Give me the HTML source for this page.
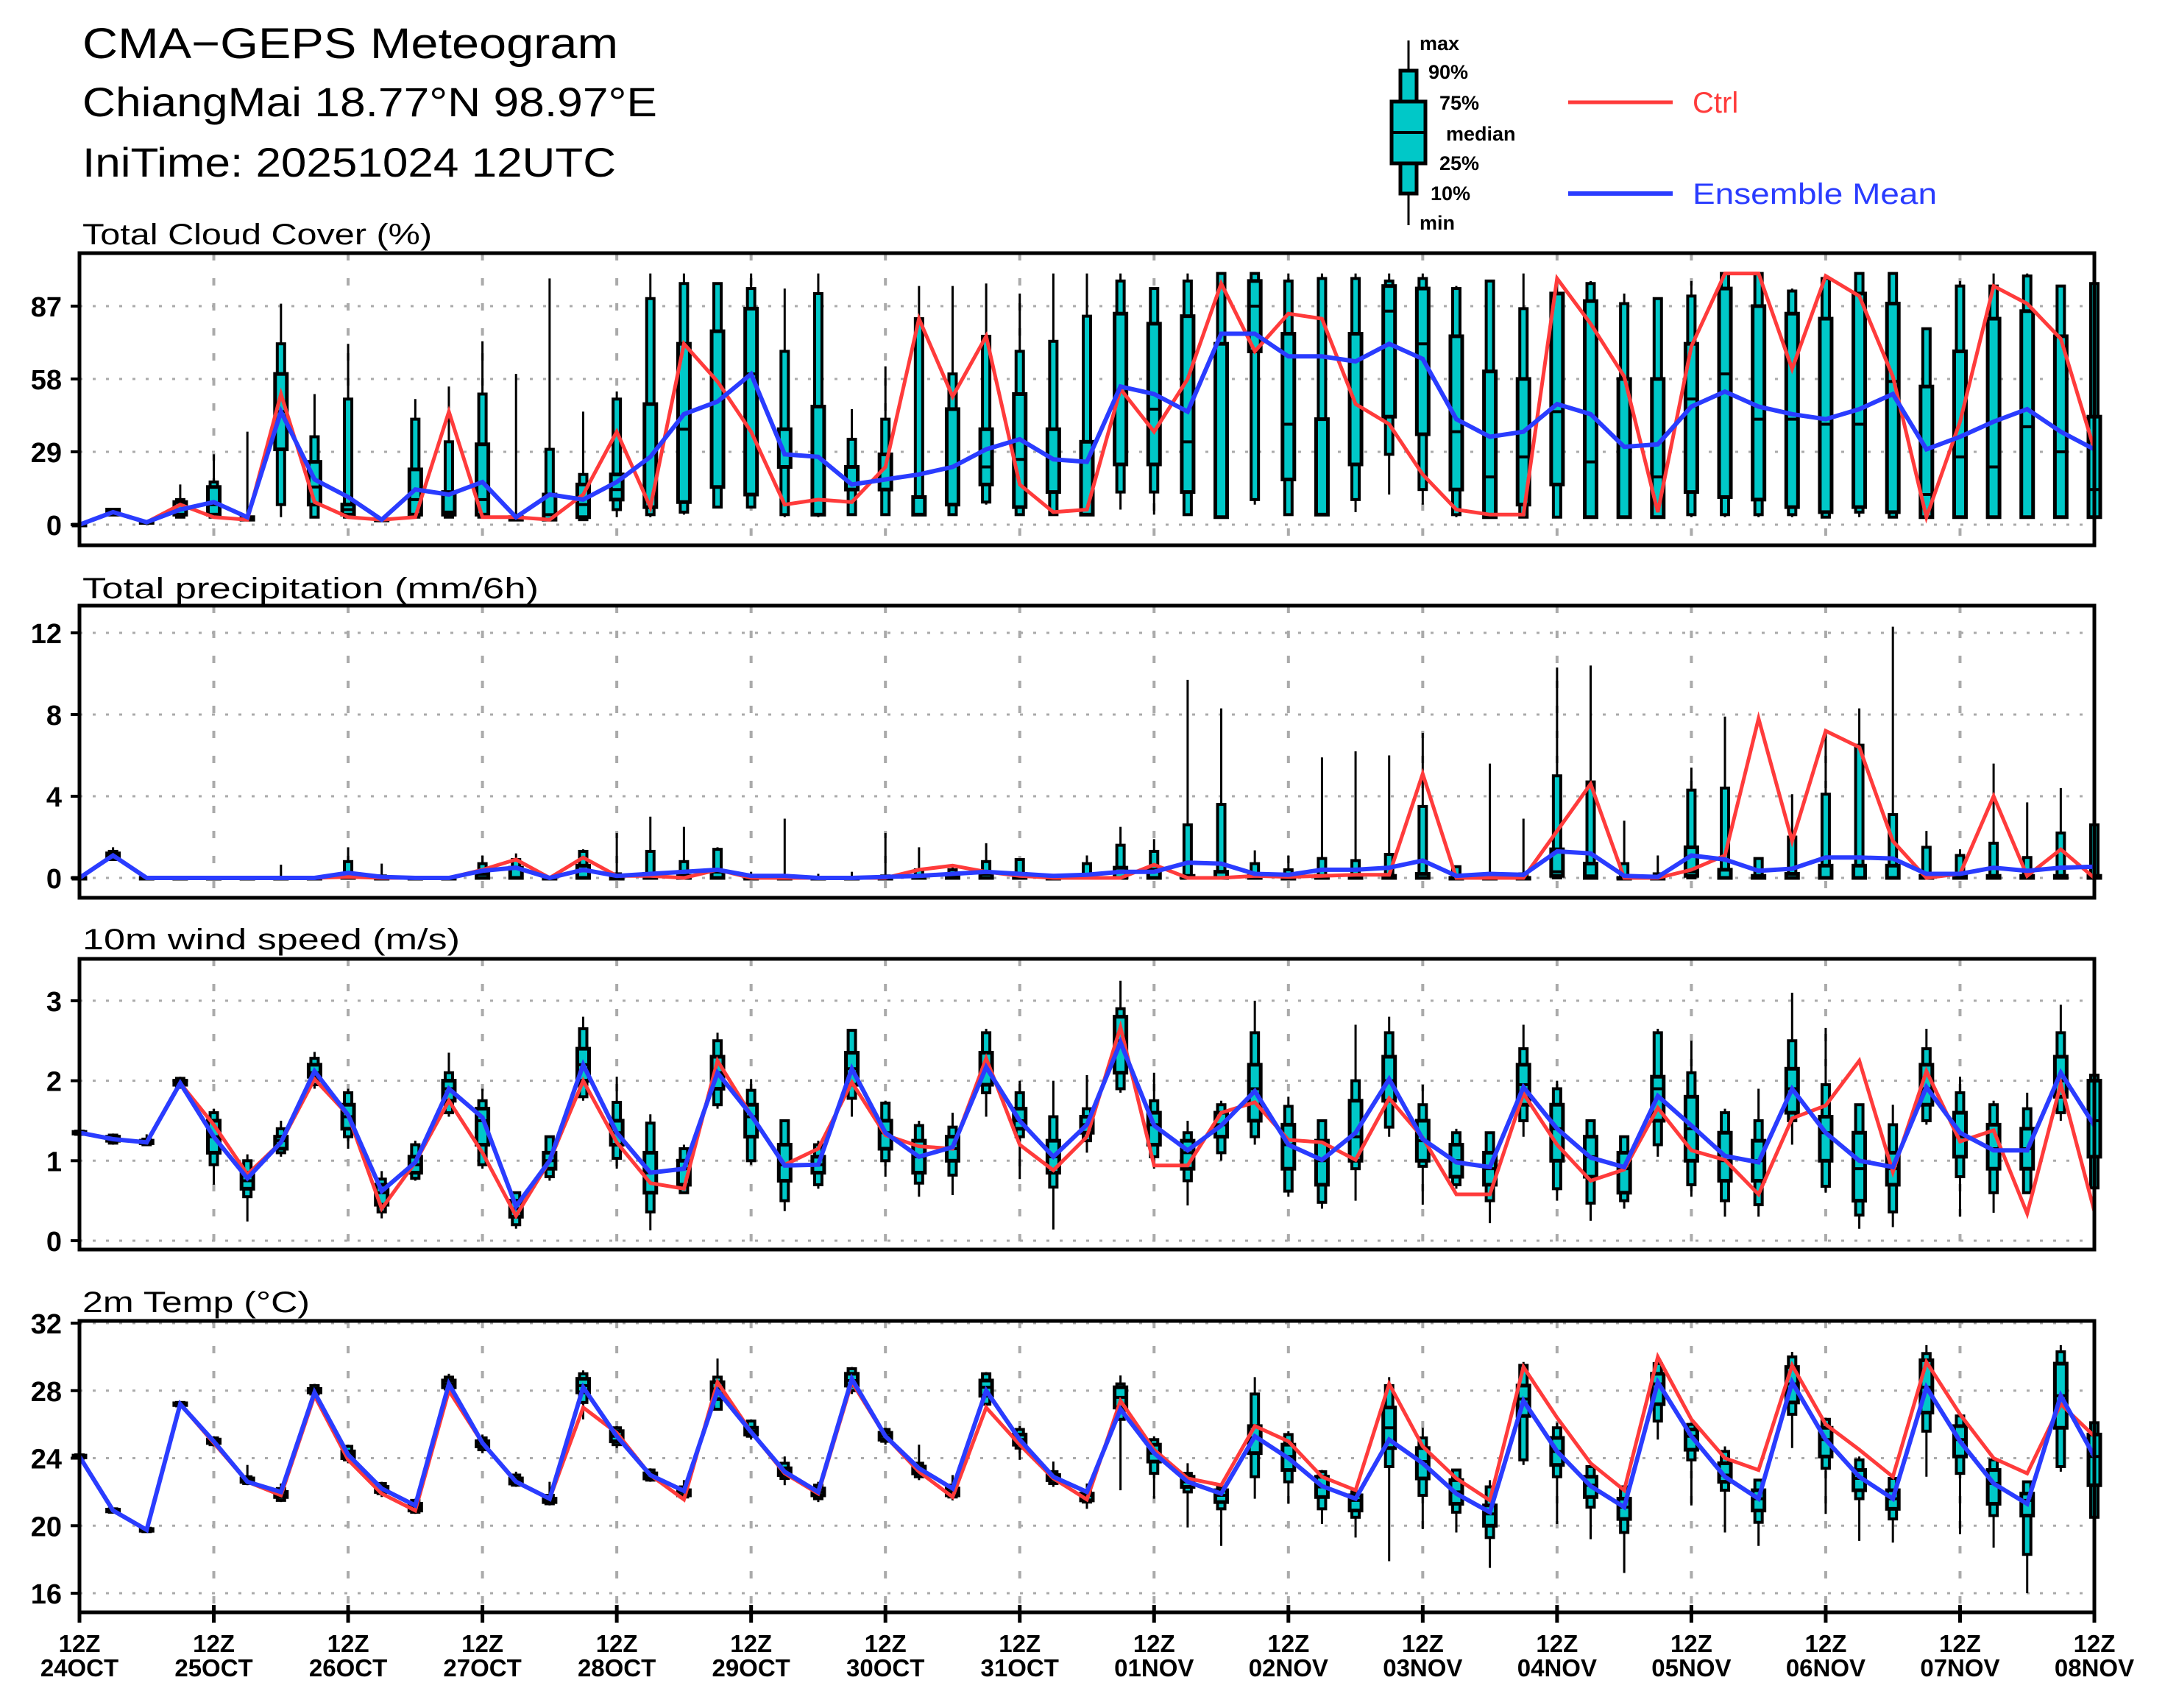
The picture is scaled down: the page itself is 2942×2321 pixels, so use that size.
<!DOCTYPE html>
<html><head><meta charset="utf-8"><title>CMA-GEPS Meteogram</title>
<style>
html,body{margin:0;padding:0;background:#fff;}
svg{display:block;}
text{font-family:"Liberation Sans",sans-serif;fill:#000;}
</style></head>
<body>
<svg id="chart" xmlns="http://www.w3.org/2000/svg" width="2942" height="2321" viewBox="0 0 2942 2321">
<rect x="0" y="0" width="2942" height="2321" fill="#fff"/>
<text x="112" y="79" font-size="58" textLength="728" lengthAdjust="spacingAndGlyphs">CMA−GEPS Meteogram</text>
<text x="112" y="158" font-size="56" textLength="781" lengthAdjust="spacingAndGlyphs">ChiangMai 18.77°N 98.97°E</text>
<text x="112" y="240" font-size="56" textLength="725" lengthAdjust="spacingAndGlyphs">IniTime: 20251024 12UTC</text>
<g id="legend">
  <line x1="1914" y1="55" x2="1914" y2="306" stroke="#000" stroke-width="3"/>
  <rect x="1903" y="96" width="22" height="167" fill="#00c8c8" stroke="#000" stroke-width="5"/>
  <rect x="1891" y="138" width="46" height="84" fill="#00c8c8" stroke="#000" stroke-width="5"/>
  <line x1="1891" y1="180" x2="1937" y2="180" stroke="#000" stroke-width="4"/>
  <text x="1929" y="68" font-size="27" font-weight="bold">max</text>
  <text x="1941" y="107" font-size="27" font-weight="bold">90%</text>
  <text x="1956" y="149" font-size="27" font-weight="bold">75%</text>
  <text x="1965" y="191" font-size="27" font-weight="bold">median</text>
  <text x="1956" y="231" font-size="27" font-weight="bold">25%</text>
  <text x="1944" y="272" font-size="27" font-weight="bold">10%</text>
  <text x="1929" y="312" font-size="27" font-weight="bold">min</text>
  <line x1="2131" y1="139" x2="2273" y2="139" stroke="#ff3b3b" stroke-width="5"/>
  <text x="2300" y="153" font-size="40" style="fill:#ff3b3b">Ctrl</text>
  <line x1="2131" y1="263" x2="2273" y2="263" stroke="#2a3cff" stroke-width="6"/>
  <text x="2300" y="277" font-size="40" textLength="332" lengthAdjust="spacingAndGlyphs" style="fill:#2a3cff">Ensemble Mean</text>
</g>
</svg>
<script>
// ---------- Cloud cover (%) ----------
const cloudMin  = [0,4,1,3,3,2,3,3,3,2, 3,3,3,2,2,2,3,3,4,7, 7,3,3,4,4,4,4,8,4,4, 4,6,4,4,3,8,4,4,5,12, 8,3,3,3,3,3,3,3,3,3, 3,3,3,3,3,3,3,3,3,3, 3];
const cloudP10  = [0,4,1,3,3,2,8,3,3,2, 3,3,3,2,2,2,6,4,5,7, 7,4,4,4,4,4,4,9,4,4, 4,13,13,4,3,10,4,4,10,28, 14,4,3,3,3,3,3,3,4,4, 4,4,3,5,3,3,3,3,3,3, 3];
const cloudP25  = [0,4,1,4,4,2,30,8,4,2, 4,4,4,2,2,3,10,7,9,15, 12,23,4,14,14,4,8,16,7,13, 4,24,24,13,3,69,18,4,24,43, 36,14,3,8,16,3,3,3,13,11, 10,7,5,7,5,3,3,3,3,3, 3];
const cloudMed  = [0,5,1,6,8,2,45,15,6,2, 10,5,10,3,4,8,14,48,38,77, 60,23,47,14,14,11,46,23,26,13, 33,84,46,33,72,87,40,42,76,85, 72,37,19,27,45,25,3,19,50,60, 42,42,40,40,57,12,27,23,39,29, 14];
const cloudP75  = [0,6,1,9,15,3,60,25,8,2, 22,13,32,3,12,16,20,48,72,77, 86,38,47,23,28,11,46,38,52,38, 33,84,80,83,72,97,76,42,76,95, 94,75,61,58,92,89,58,58,72,94, 87,84,82,92,88,55,69,82,85,75, 43];
const cloudP90  = [0,6,1,10,17,3,72,35,50,2, 42,33,52,3,30,20,50,90,96,96, 94,69,92,34,42,82,60,75,69,73, 83,97,94,97,100,100,97,98,98,97, 98,94,97,86,92,96,88,90,91,100, 100,93,98,100,100,78,95,95,99,95, 96];
const cloudMax  = [0,6,1,16,28,37,88,52,72,2, 50,55,73,60,98,45,53,100,100,96, 100,94,100,46,63,95,95,96,92,100, 100,100,94,100,100,100,100,100,100,100, 100,95,97,100,98,97,92,90,97,100, 100,94,99,100,100,78,97,100,100,95, 96];
const cloudCtrl = [0,5,1,8,3,2,52,9,3,2, 3,45,3,3,2,12,37,7,72,57, 37,8,10,9,23,82,51,75,16,5, 6,54,37,58,96,69,84,82,48,40, 20,6,4,4,98,80,59,5,71,100, 100,62,99,91,59,3,41,95,88,74, 30];
const cloudMean = [0,5,1,6,9,3,45,18,11,2, 14,12,17,3,12,10,17,27,44,49, 60,28,27,16,18,20,23,30,34,26, 25,55,52,45,76,76,67,67,65,72, 66,42,35,37,48,44,31,32,47,53, 47,44,42,46,52,30,35,41,46,37, 30];
const cloudTicks = [0,29,58,87];

// ---------- Precipitation (mm/6h) ----------
const precMin  = [0,0.9,0,0,0,0,0,0,0,0, 0,0,0,0,0,0,0,0,0,0, 0,0,0,0,0,0,0,0,0,0, 0,0,0,0,0,0,0,0,0,0, 0,0,0,0,0,0,0,0,0,0, 0,0,0,0,0,0,0,0,0,0, 0];
const precP10  = [0,0.9,0,0,0,0,0,0,0,0, 0,0,0,0,0,0,0,0,0,0, 0,0,0,0,0,0,0,0,0,0, 0,0,0,0,0,0,0,0,0,0, 0,0,0,0,0,0,0,0,0,0, 0,0,0,0,0,0,0,0,0,0, 0];
const precP25  = [0,1.0,0,0,0,0,0,0,0,0, 0,0,0,0,0,0,0,0,0,0, 0,0,0,0,0,0,0,0,0,0, 0,0,0,0,0,0,0,0,0,0, 0,0,0,0,0.1,0,0,0,0.1,0, 0,0,0,0,0,0,0,0,0,0, 0];
const precMed  = [0,1.1,0,0,0,0,0,0,0,0, 0,0,0,0,0,0,0,0,0,0, 0,0,0,0,0,0,0,0,0,0, 0,0,0,0,0,0,0,0,0,0, 0,0,0,0,0.3,0.1,0,0,0.3,0, 0,0,0,0,0,0,0,0,0,0, 0];
const precP75  = [0,1.2,0,0,0,0,0,0,0.2,0, 0,0,0.2,0.5,0,0.6,0,0.2,0.1,0.3, 0,0,0,0,0,0.1,0.1,0.2,0.2,0, 0.1,0.5,0.4,0.1,0.3,0.1,0,0.1,0.1,0.1, 0.2,0,0,0,1.4,0.7,0,0,1.5,0.4, 0.1,0.2,0.6,0.6,0.6,0.1,0.1,0.1,0.1,0.1, 0.1];
const precP90  = [0,1.3,0,0,0,0,0,0,0.8,0.1, 0,0,0.7,0.9,0,1.3,0.2,1.3,0.8,1.4, 0.1,0.1,0,0,0.1,0.4,0.4,0.8,0.9,0.1, 0.7,1.6,1.3,2.6,3.6,0.7,0.4,0.95,0.85,1.15, 3.5,0.55,0.2,0.2,5.0,4.7,0.7,0.2,4.3,4.4, 0.95,2.0,4.1,6.5,3.1,1.5,1.1,1.7,1.0,2.2, 2.6];
const precMax  = [0,1.5,0,0,0,0,0.65,0,1.5,0.7, 0,0,1.1,1.2,0,1.4,2.2,3.0,2.5,1.5, 0.3,2.9,0.2,0.3,2.2,1.5,0.6,1.7,0.9,0.2, 1.1,2.5,1.9,9.7,8.3,1.35,1.1,5.9,6.2,6.0, 7.1,0.55,5.6,2.9,10.3,10.4,2.8,1.1,5.4,7.9, 0.95,4.1,7.2,8.3,12.3,2.3,1.4,5.6,3.7,4.4, 2.6];
const precCtrl = [0,1.1,0,0,0,0,0,0,0.05,0, 0,0,0.4,0.9,0,1.0,0.1,0.1,0,0.4, 0,0,0,0,0,0.4,0.6,0.3,0.1,0, 0,0,0.65,0,0,0.1,0.05,0.1,0.15,0.15, 5.1,0,0,0,2.3,4.6,0,0,0.4,1.1, 7.8,1.8,7.2,6.4,1.8,0,0.2,4.0,0.1,1.4, 0];
const precMean = [0,1.1,0,0,0,0,0,0,0.25,0.05, 0,0,0.35,0.5,0,0.4,0.1,0.2,0.3,0.4, 0.1,0.1,0,0,0.05,0.1,0.2,0.3,0.2,0.1, 0.15,0.3,0.3,0.75,0.7,0.2,0.15,0.4,0.4,0.5, 0.85,0.1,0.2,0.15,1.3,1.2,0.1,0.05,1.1,0.9, 0.35,0.45,1.0,1.0,0.95,0.2,0.2,0.5,0.35,0.5, 0.55];
const precTicks = [0,4,8,12];

// ---------- 10m wind speed (m/s) ----------
const windMin  = [1.33,1.2,1.2,1.9,0.7,0.24,1.05,1.9,1.15,0.28, 0.75,1.55,0.9,0.15,0.75,1.75,0.9,0.13,0.6,1.65, 0.95,0.37,0.65,1.55,0.8,0.55,0.57,1.55,0.77,0.14, 1.1,1.85,0.9,0.44,1.0,1.2,0.55,0.4,0.5,1.3, 0.45,0.65,0.22,1.3,0.5,0.25,0.4,1.05,0.55,0.3, 0.3,1.2,0.6,0.15,0.17,1.45,0.3,0.35,0.6,1.5, 0.66];
const windP10  = [1.33,1.22,1.2,1.92,0.95,0.55,1.1,1.95,1.3,0.36, 0.78,1.6,0.95,0.2,0.8,1.8,1.03,0.36,0.6,1.7, 1.0,0.5,0.7,1.78,1.0,0.72,0.82,1.85,1.3,0.67, 1.25,1.9,1.05,0.75,1.1,1.3,0.62,0.48,0.9,1.42, 0.93,0.7,0.5,1.5,0.65,0.47,0.5,1.2,0.7,0.5, 0.45,1.5,0.68,0.32,0.36,1.5,0.8,0.6,0.6,1.6, 0.66];
const windP25  = [1.34,1.25,1.22,1.95,1.1,0.65,1.15,2.05,1.4,0.45, 0.85,1.75,1.2,0.3,0.9,2.0,1.2,0.6,0.7,1.9, 1.3,0.75,0.85,1.95,1.15,0.85,1.0,1.95,1.4,0.85, 1.35,2.1,1.2,0.9,1.3,1.5,0.9,0.7,1.0,1.75, 1.0,0.8,0.7,1.7,1.0,0.8,0.6,1.5,1.0,0.75, 0.75,1.6,1.0,0.5,0.7,1.7,1.05,0.9,0.9,1.8, 1.05];
const windMed  = [1.35,1.27,1.23,1.97,1.3,0.75,1.25,2.1,1.55,0.6, 0.95,1.9,1.5,0.4,1.0,2.2,1.35,0.85,0.9,2.1, 1.55,0.95,0.95,2.15,1.35,1.05,1.15,2.15,1.5,1.05, 1.45,2.5,1.45,1.1,1.45,1.9,1.2,1.0,1.3,2.0, 1.25,1.0,0.9,1.95,1.4,1.05,0.9,1.9,1.4,1.0, 1.0,1.9,1.35,0.9,0.9,1.9,1.3,1.15,1.15,2.0, 1.5];
const windP75  = [1.36,1.3,1.25,2.0,1.5,0.85,1.3,2.2,1.7,0.7, 1.05,2.0,1.65,0.5,1.1,2.4,1.5,1.1,1.0,2.3, 1.7,1.2,1.05,2.35,1.5,1.25,1.3,2.35,1.65,1.25, 1.55,2.8,1.6,1.25,1.6,2.2,1.45,1.25,1.75,2.3, 1.5,1.2,1.1,2.2,1.7,1.3,1.1,2.05,1.8,1.35, 1.25,2.15,1.55,1.35,1.1,2.2,1.6,1.45,1.4,2.3, 2.0];
const windP90  = [1.37,1.32,1.27,2.03,1.6,1.0,1.4,2.28,1.85,0.77, 1.2,2.1,1.75,0.6,1.3,2.65,1.73,1.47,1.15,2.5, 1.88,1.5,1.2,2.63,1.72,1.44,1.42,2.6,1.85,1.55, 1.65,2.9,1.75,1.35,1.7,2.6,1.68,1.5,2.0,2.6, 1.7,1.35,1.35,2.4,1.9,1.5,1.3,2.6,2.1,1.6, 1.5,2.5,1.95,1.7,1.45,2.4,1.85,1.7,1.65,2.6, 2.07];
const windMax  = [1.37,1.34,1.33,2.05,1.65,1.08,1.5,2.36,1.9,0.87, 1.25,2.35,1.9,0.6,1.3,2.8,2.05,1.58,1.2,2.6, 2.02,1.5,1.25,2.63,1.75,1.5,1.6,2.65,2.0,2.0, 2.07,3.25,2.1,1.5,1.75,3.0,1.8,1.5,2.7,2.8, 1.95,1.4,1.35,2.7,2.0,1.5,1.3,2.65,2.5,1.65, 1.9,3.1,2.66,1.7,1.7,2.65,2.05,1.75,1.85,2.95, 2.07];
const windCtrl = [1.35,1.27,1.23,1.97,1.45,0.83,1.23,2.02,1.57,0.4, 0.98,1.75,1.1,0.31,1.0,2.0,1.23,0.72,0.65,2.25, 1.57,0.95,1.15,1.98,1.32,1.18,1.15,2.28,1.2,0.88, 1.3,2.67,0.94,0.94,1.6,1.73,1.26,1.23,1.01,1.78, 1.29,0.58,0.58,1.84,1.2,0.75,0.89,1.66,1.13,1.01, 0.58,1.53,1.69,2.25,0.86,2.12,1.24,1.38,0.34,1.96, 0.37];
const windMean = [1.35,1.27,1.23,1.97,1.3,0.78,1.23,2.12,1.57,0.62, 0.98,1.9,1.54,0.43,1.0,2.2,1.35,0.85,0.9,2.1, 1.57,0.94,0.95,2.15,1.35,1.05,1.17,2.17,1.5,1.05, 1.45,2.48,1.44,1.13,1.44,1.87,1.2,1.01,1.35,2.02, 1.27,0.98,0.92,1.92,1.4,1.04,0.92,1.81,1.44,1.06, 0.98,1.9,1.35,1.0,0.92,1.92,1.35,1.13,1.13,2.1, 1.44];
const windTicks = [0,1,2,3];

// ---------- 2m temperature (°C) ----------
const tempMin  = [24.0,20.8,19.6,27.1,24.7,22.4,21.4,27.7,23.7,21.7, 20.7,27.9,24.3,22.3,21.2,26.3,24.6,22.6,21.5,26.9, 25.1,22.4,21.4,27.8,24.8,22.7,21.5,26.8,23.9,22.3, 21.0,22.1,21.6,19.9,18.8,21.6,21.3,20.1,19.3,17.9, 19.8,19.6,17.5,23.6,20.1,19.2,17.2,25.1,21.2,19.6, 18.8,24.6,20.7,19.1,19.0,22.9,19.5,18.7,16.0,23.2, 20.5];
const tempP10  = [24.0,20.8,19.65,27.1,24.8,22.5,21.5,27.8,23.9,21.9, 20.8,28.1,24.5,22.4,21.3,27.3,24.8,22.7,21.7,26.9, 25.3,22.8,21.6,28.0,25.0,22.9,21.7,27.2,24.6,22.5, 21.4,26.3,23.1,22.0,21.0,22.9,22.6,21.0,20.5,23.5, 21.8,20.8,19.3,23.9,22.9,21.1,19.6,26.2,23.9,22.1, 20.2,26.6,23.4,21.6,20.4,25.6,23.1,20.6,18.3,23.5, 20.5];
const tempP25  = [24.05,20.85,19.7,27.15,24.9,22.6,21.7,27.9,24.0,22.0, 20.9,28.2,24.7,22.5,21.4,27.9,25.0,22.8,21.8,27.5, 25.4,23.0,21.8,28.3,25.1,23.1,21.8,27.7,24.8,22.7, 21.5,27.0,23.8,22.3,21.4,24.3,23.3,21.7,20.9,24.6, 22.8,21.3,20.0,26.5,23.6,21.7,20.4,27.2,24.5,22.6, 20.9,27.3,24.1,22.1,21.0,26.7,24.1,21.3,20.6,25.8, 22.4];
const tempMed  = [24.1,20.9,19.75,27.2,25.0,22.7,21.8,28.0,24.2,22.2, 21.1,28.4,24.9,22.7,21.5,28.3,25.3,23.0,22.0,28.1, 25.6,23.2,22.0,28.6,25.3,23.3,22.0,28.2,25.1,22.9, 21.8,27.6,24.3,22.6,21.8,25.2,24.1,22.3,21.5,25.8, 23.8,22.0,20.7,27.5,24.4,22.4,21.1,28.4,25.3,23.0, 21.6,28.4,25.1,22.8,21.6,28.2,25.1,22.5,21.5,27.7, 24.1];
const tempP75  = [24.15,20.95,19.8,27.25,25.1,22.8,22.0,28.1,24.4,22.3, 21.3,28.6,25.0,22.8,21.6,28.7,25.6,23.1,22.1,28.5, 25.8,23.4,22.2,29.0,25.5,23.5,22.2,28.6,25.4,23.0, 21.9,28.2,24.8,22.9,22.1,25.9,24.8,22.9,21.8,27.0, 24.6,22.7,21.2,28.3,25.2,22.9,21.6,29.0,25.7,23.7, 22.1,29.4,25.8,23.3,22.1,29.8,25.9,23.3,21.9,29.6, 25.4];
const tempP90  = [24.2,21.0,19.85,27.3,25.2,22.9,22.2,28.3,24.7,22.5, 21.5,28.8,25.2,23.0,21.8,29.0,25.8,23.3,22.3,28.8, 26.2,23.7,22.4,29.3,25.7,23.7,22.4,29.0,25.7,23.2, 22.1,28.4,25.1,23.1,22.3,27.8,25.4,23.2,22.0,28.3, 25.2,23.3,22.3,29.5,25.8,23.5,22.3,29.6,26.0,24.4, 22.7,30.0,26.3,23.9,22.8,30.2,26.5,23.9,22.6,30.3, 26.1];
const tempMax  = [24.2,21.0,19.9,27.3,25.3,23.6,22.5,28.4,24.8,22.6, 21.6,29.0,25.4,23.2,22.6,29.2,25.9,23.4,22.7,29.9, 26.3,24.1,22.6,29.4,25.8,24.8,23.0,29.1,25.9,23.8, 22.5,28.9,25.3,23.7,22.4,28.8,25.6,23.3,22.1,28.8, 25.8,23.3,22.7,29.7,26.1,23.6,22.4,29.9,26.1,24.7, 22.7,30.3,26.4,24.1,22.8,30.7,26.6,24.0,22.6,30.7, 26.1];
const tempCtrl = [24.1,20.9,19.75,27.2,24.9,22.6,21.8,27.7,23.9,21.9, 20.9,28.0,24.9,22.6,21.6,27.0,25.5,23.0,21.55,28.5, 25.55,23.1,21.9,28.5,25.3,23.2,21.7,27.0,24.8,22.8, 21.55,27.4,24.5,22.8,22.4,25.9,25.0,22.9,22.1,28.4, 24.7,22.8,21.5,29.4,26.4,23.7,22.1,30.0,26.3,24.0, 23.3,29.5,26.0,24.5,22.9,29.7,26.6,24.0,23.1,27.2, 25.3];
const tempMean = [24.1,20.9,19.75,27.2,25.0,22.6,22.0,27.9,24.2,22.2, 21.2,28.4,24.9,22.6,21.6,28.2,25.3,23.0,22.06,28.0, 25.55,23.2,22.0,28.7,25.3,23.4,22.2,28.0,25.1,22.9, 22.0,26.9,24.3,22.6,21.9,25.3,24.0,22.35,21.6,25.1, 23.7,21.9,20.8,27.4,24.4,22.35,21.1,28.5,25.3,22.9, 21.6,28.5,25.1,22.9,21.6,28.2,25.0,22.5,21.3,27.7, 24.1];
const tempTicks = [16,20,24,28,32];

// ---------- time axis ----------
const dayLabels = ["24OCT","25OCT","26OCT","27OCT","28OCT","29OCT","30OCT","31OCT","01NOV","02NOV","03NOV","04NOV","05NOV","06NOV","07NOV","08NOV"];

const NS = "http://www.w3.org/2000/svg";
const svg = document.getElementById("chart");
const X0 = 108, X1 = 2846, NSTEP = 60;
function xAt(i){ return X0 + (X1 - X0) * i / NSTEP; }
function dayX(d){ return X0 + (X1 - X0) * d / (dayLabels.length - 1); }
function mk(tag, attrs, parent){
  const e = document.createElementNS(NS, tag);
  for (const k in attrs) e.setAttribute(k, attrs[k]);
  (parent || svg).appendChild(e);
  return e;
}

const panels = [
  {key:"cloud", title:"Total Cloud Cover (%)", tx:112, ty:332, tlen:475, top:344, bot:741, v0:0, y0:713, ppu:3.414, ticks:cloudTicks,
   mn:cloudMin, p10:cloudP10, p25:cloudP25, med:cloudMed, p75:cloudP75, p90:cloudP90, mx:cloudMax, ctrl:cloudCtrl, mean:cloudMean},
  {key:"precip", title:"Total precipitation (mm/6h)", tx:112, ty:813, tlen:620, top:823, bot:1220, v0:0, y0:1193, ppu:27.75, ticks:precTicks,
   mn:precMin, p10:precP10, p25:precP25, med:precMed, p75:precP75, p90:precP90, mx:precMax, ctrl:precCtrl, mean:precMean},
  {key:"wind", title:"10m wind speed (m/s)", tx:112, ty:1290, tlen:513, top:1303, bot:1698, v0:0, y0:1686, ppu:108.7, ticks:windTicks,
   mn:windMin, p10:windP10, p25:windP25, med:windMed, p75:windP75, p90:windP90, mx:windMax, ctrl:windCtrl, mean:windMean},
  {key:"temp", title:"2m Temp (°C)", tx:112, ty:1783, tlen:309, top:1795, bot:2191, v0:32, y0:1798, ppu:22.94, ticks:tempTicks,
   mn:tempMin, p10:tempP10, p25:tempP25, med:tempMed, p75:tempP75, p90:tempP90, mx:tempMax, ctrl:tempCtrl, mean:tempMean}
];

panels.forEach(function(p, pi){
  const yAt = function(v){ return p.y0 - (v - p.v0) * p.ppu; };
  const g = mk("g", {});
  
  

  const t = mk("text", {x:p.tx, y:p.ty, "font-size":40, textLength:p.tlen, lengthAdjust:"spacingAndGlyphs"}, g);
  t.textContent = p.title;
  
  

  p.ticks.forEach(function(v){
    const y = yAt(v);
    const gl = mk("line", {x1:X0, y1:y, x2:X1, y2:y, stroke:"#aaaaaa", "stroke-width":3, "stroke-dasharray":"4 14"}, g);
    
    
    const tk = mk("line", {x1:X0-12, y1:y, x2:X0, y2:y, stroke:"#000", "stroke-width":4}, g);
    
    
    const lb = mk("text", {x:84, y:y+14, "font-size":38, "font-weight":"bold", "text-anchor":"end"}, g);
    lb.textContent = String(v);
    
    
  });
  for (let d = 1; d < dayLabels.length - 1; d++) {
    const x = dayX(d);
    const vl = mk("line", {x1:x, y1:p.top, x2:x, y2:p.bot, stroke:"#aaaaaa", "stroke-width":4, "stroke-dasharray":"10 24"}, g);
    
    
  }

  for (let i = 0; i <= NSTEP; i++) {
    const x = xAt(i);
    const bg = mk("g", {}, g);
    
    
    const wh = mk("line", {x1:x, y1:yAt(p.mn[i]), x2:x, y2:yAt(p.mx[i]), stroke:"#000", "stroke-width":3}, bg);
    
    
    const y90 = yAt(p.p90[i]), y10 = yAt(p.p10[i]);
    const ob = mk("rect", {x:x-5, y:y90, width:10, height:Math.max(1, y10 - y90), fill:"#00c8c8", stroke:"#000", "stroke-width":4}, bg);
    
    
    const y75 = yAt(p.p75[i]), y25 = yAt(p.p25[i]);
    const ib = mk("rect", {x:x-8, y:y75, width:16, height:Math.max(1, y25 - y75), fill:"#00c8c8", stroke:"#000", "stroke-width":5}, bg);
    
    
    const ym = yAt(p.med[i]);
    const md = mk("line", {x1:x-8, y1:ym, x2:x+8, y2:ym, stroke:"#000", "stroke-width":4}, bg);
    
    
  }

  const ctrlPts = p.ctrl.map(function(v, i){ return xAt(i).toFixed(1) + "," + yAt(v).toFixed(1); }).join(" ");
  const cl = mk("polyline", {points:ctrlPts, fill:"none", stroke:"#ff3b3b", "stroke-width":5, "stroke-linejoin":"miter"}, g);
  
  
  const meanPts = p.mean.map(function(v, i){ return xAt(i).toFixed(1) + "," + yAt(v).toFixed(1); }).join(" ");
  const ml = mk("polyline", {points:meanPts, fill:"none", stroke:"#2a3cff", "stroke-width":6, "stroke-linejoin":"miter"}, g);
  
  

  const fr = mk("rect", {x:X0, y:p.top, width:X1 - X0, height:p.bot - p.top, fill:"none", stroke:"#000", "stroke-width":5}, g);
  
  

  if (pi === panels.length - 1) {
    for (let d = 0; d < dayLabels.length; d++) {
      const x = dayX(d);
      const xt = mk("line", {x1:x, y1:p.bot - 10, x2:x, y2:p.bot + 14, stroke:"#000", "stroke-width":5}, g);
      
      
      const l1 = mk("text", {x:x, y:2245, "font-size":33, "font-weight":"bold", "text-anchor":"middle"}, g);
      l1.textContent = "12Z";
      
      
      const l2 = mk("text", {x:x, y:2278, "font-size":33, "font-weight":"bold", "text-anchor":"middle"}, g);
      l2.textContent = dayLabels[d];
      
      
    }
  }
});
</script>
</body></html>
